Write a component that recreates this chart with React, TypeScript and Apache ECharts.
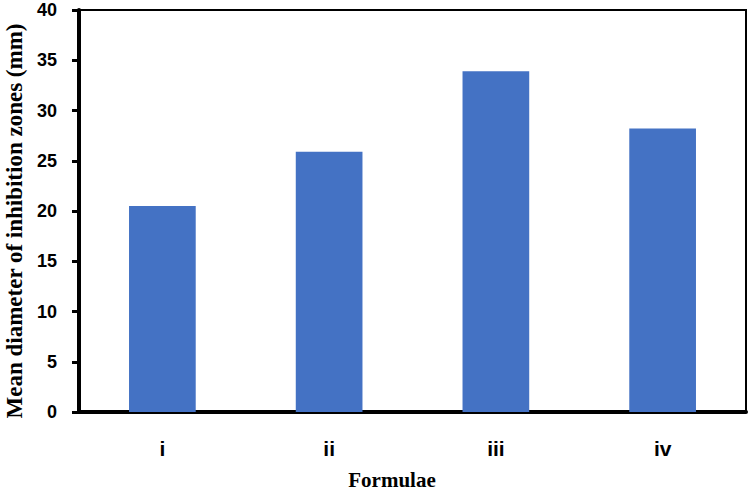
import React, { useEffect, useRef } from "react";
import * as echarts from "echarts";

const categories = ["i", "ii", "iii", "iv"];
const meanDiameter = [20.5, 25.9, 33.9, 28.2];
const yTicks = { min: 0, max: 40, interval: 5 };

export default function App() {
  const ref = useRef<HTMLDivElement>(null);
  useEffect(() => {
    const chart = echarts.init(ref.current!, null, { renderer: "svg" });
    chart.setOption({
      animation: false,
      grid: {
        left: 79,
        right: 4,
        top: 10,
        bottom: 82,
        show: true,
        borderColor: "#000",
        borderWidth: 2,
        outerBoundsMode: "none",
        containLabel: false,
      },
      xAxis: {
        type: "category",
        data: categories,
        axisLine: { show: true, lineStyle: { color: "#000", width: 4 } },
        axisTick: { show: false },
        axisLabel: {
          color: "#000",
          fontFamily: "Liberation Sans, Arial, sans-serif",
          fontWeight: "bold",
          fontSize: 21,
          margin: 26,
        },
      },
      yAxis: {
        type: "value",
        min: yTicks.min,
        max: yTicks.max,
        interval: yTicks.interval,
        splitLine: { show: false },
        axisLine: { show: true, lineStyle: { color: "#000", width: 4 } },
        axisTick: { show: true, length: 7, lineStyle: { color: "#000", width: 3 } },
        axisLabel: {
          color: "#000",
          fontFamily: "Liberation Sans, Arial, sans-serif",
          fontWeight: "bold",
          fontSize: 18,
          margin: 22,
        },
      },
      graphic: [
        {
          type: "text",
          x: 14,
          y: 221,
          rotation: Math.PI / 2,
          style: {
            text: "Mean diameter of inhibition zones (mm)",
            fill: "#000",
            font: "bold 23px 'Liberation Serif', 'Times New Roman', serif",
            align: "center",
            verticalAlign: "middle",
          },
        },
        {
          type: "text",
          x: 392,
          y: 480,
          style: {
            text: "Formulae",
            fill: "#000",
            font: "bold 21px 'Liberation Serif', 'Times New Roman', serif",
            align: "center",
            verticalAlign: "middle",
          },
        },
      ],
      series: [
        {
          type: "bar",
          data: meanDiameter,
          barWidth: "40%",
          itemStyle: { color: "#4472C4" },
        },
      ],
    });
    return () => chart.dispose();
  }, []);
  return <div ref={ref} style={{ width: 750, height: 494, position: "absolute", left: 0, top: 0 }} />;
}
